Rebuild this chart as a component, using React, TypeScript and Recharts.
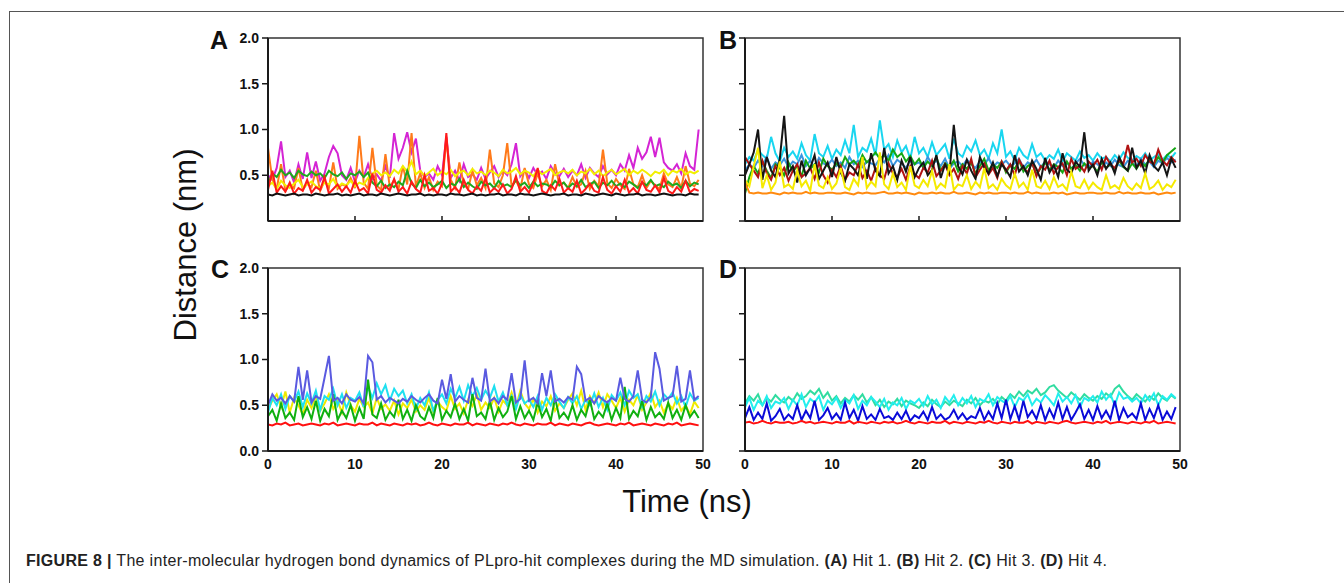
import { LineChart, Line, XAxis, YAxis, ReferenceArea } from "recharts";

// H-bond distances (nm), one value every SAMPLE_NS over the 50 ns run
const SAMPLE_NS = 0.5;
const TIME_TICKS = [0, 10, 20, 30, 40, 50];
const DIST_TICKS = [0, 0.5, 1, 1.5, 2];

// ---- Hit 1 (panel A)
const A_MAGENTA = [
  0.50, 0.45, 0.58, 0.87, 0.48, 0.55, 0.42, 0.62, 0.46, 0.75,
  0.47, 0.65, 0.44, 0.52, 0.70, 0.82, 0.74, 0.50, 0.45, 0.58,
  0.43, 0.55, 0.48, 0.62, 0.46, 0.51, 0.44, 0.60, 0.47, 0.96,
  0.68, 0.80, 0.97, 0.75, 0.90, 0.55, 0.48, 0.52, 0.45, 0.60,
  0.50, 0.92, 0.47, 0.55, 0.44, 0.62, 0.48, 0.51, 0.45, 0.58,
  0.46, 0.53, 0.60, 0.48, 0.55, 0.50, 0.62, 0.85, 0.49, 0.56,
  0.47, 0.58, 0.50, 0.54, 0.46, 0.60, 0.52, 0.49, 0.57, 0.48,
  0.55, 0.50, 0.62, 0.47, 0.58, 0.52, 0.48, 0.60, 0.51, 0.56,
  0.50, 0.62, 0.55, 0.72, 0.58, 0.80, 0.68, 0.75, 0.92, 0.70,
  0.91, 0.64, 0.58, 0.55, 0.62, 0.52, 0.74, 0.60, 0.56, 1.00,
];
const A_ORANGE = [
  0.80, 0.45, 0.35, 0.62, 0.33, 0.40, 0.36, 0.58, 0.34, 0.41,
  0.37, 0.55, 0.33, 0.44, 0.36, 0.64, 0.35, 0.40, 0.38, 0.47,
  0.36, 0.93, 0.42, 0.35, 0.80, 0.39, 0.34, 0.73, 0.37, 0.45,
  0.35, 0.60, 0.40, 0.96, 0.38, 0.52, 0.36, 0.48, 0.34, 0.43,
  0.38, 0.90, 0.45, 0.36, 0.64, 0.40, 0.35, 0.55, 0.39, 0.47,
  0.36, 0.78, 0.41, 0.37, 0.50, 0.85, 0.38, 0.44, 0.35, 0.58,
  0.40, 0.36, 0.52, 0.38, 0.45, 0.34, 0.62, 0.39, 0.42, 0.36,
  0.48, 0.37, 0.40, 0.55, 0.35, 0.44, 0.38, 0.78, 0.41, 0.36,
  0.46, 0.39, 0.35, 0.57, 0.40, 0.37, 0.50, 0.36, 0.44, 0.39,
  0.35, 0.52, 0.40, 0.37, 0.48, 0.36, 0.60, 0.41, 0.38, 0.45,
];
const A_YELLOW = [
  0.38, 0.42, 0.35, 0.44, 0.39, 0.36, 0.41, 0.45, 0.37, 0.40,
  0.43, 0.38, 0.36, 0.42, 0.40, 0.46, 0.37, 0.41, 0.39, 0.44,
  0.38, 0.42, 0.40, 0.47, 0.52, 0.55, 0.50, 0.53, 0.49, 0.56,
  0.52, 0.60, 0.54, 0.65, 0.51, 0.55, 0.49, 0.53, 0.57, 0.50,
  0.54, 0.51, 0.56, 0.49, 0.53, 0.55, 0.50, 0.57, 0.52, 0.54,
  0.50, 0.55, 0.53, 0.49, 0.56, 0.52, 0.54, 0.58, 0.51, 0.55,
  0.53, 0.49, 0.56, 0.51, 0.54, 0.57, 0.50, 0.53, 0.55, 0.52,
  0.56, 0.50, 0.54, 0.52, 0.57, 0.51, 0.55, 0.49, 0.53, 0.56,
  0.51, 0.54, 0.57, 0.50, 0.55, 0.52, 0.56, 0.53, 0.49, 0.54,
  0.52, 0.56, 0.50, 0.55, 0.53, 0.57, 0.51, 0.54, 0.52, 0.55,
];
const A_GREEN = [
  0.40, 0.52, 0.48, 0.56, 0.50, 0.53, 0.47, 0.55, 0.51, 0.49,
  0.54, 0.50, 0.52, 0.47, 0.55, 0.51, 0.49, 0.53, 0.46, 0.52,
  0.50, 0.54, 0.48, 0.53, 0.42, 0.38, 0.44, 0.36, 0.40, 0.37,
  0.43, 0.39, 0.55, 0.41, 0.36, 0.45, 0.38, 0.42, 0.37, 0.40,
  0.44, 0.36, 0.41, 0.39, 0.46, 0.37, 0.42, 0.38, 0.35, 0.43,
  0.39, 0.41, 0.36, 0.44, 0.38, 0.40, 0.37, 0.45, 0.39, 0.42,
  0.36, 0.43, 0.38, 0.41, 0.40, 0.37, 0.44, 0.39, 0.42, 0.36,
  0.41, 0.38, 0.45, 0.37, 0.40, 0.43, 0.36, 0.42, 0.39, 0.44,
  0.38, 0.41, 0.37, 0.43, 0.40, 0.36, 0.42, 0.39, 0.45, 0.38,
  0.40, 0.37, 0.43, 0.39, 0.41, 0.36, 0.44, 0.38, 0.42, 0.40,
];
const A_RED = [
  0.34, 0.55, 0.31, 0.38, 0.32, 0.42, 0.30, 0.36, 0.33, 0.45,
  0.31, 0.37, 0.34, 0.48, 0.30, 0.35, 0.40, 0.32, 0.38, 0.31,
  0.44, 0.33, 0.36, 0.30, 0.52, 0.34, 0.31, 0.39, 0.33, 0.46,
  0.32, 0.37, 0.30, 0.43, 0.35, 0.31, 0.50, 0.33, 0.36, 0.30,
  0.41, 0.96, 0.32, 0.37, 0.31, 0.45, 0.34, 0.30, 0.38, 0.33,
  0.47, 0.31, 0.36, 0.32, 0.40, 0.30, 0.35, 0.49, 0.32, 0.37,
  0.31, 0.42, 0.58, 0.33, 0.30, 0.39, 0.34, 0.46, 0.31, 0.36,
  0.32, 0.44, 0.30, 0.35, 0.41, 0.33, 0.31, 0.48, 0.34, 0.30,
  0.38, 0.32, 0.45, 0.31, 0.36, 0.30, 0.43, 0.34, 0.32, 0.39,
  0.31, 0.47, 0.33, 0.30, 0.37, 0.32, 0.44, 0.31, 0.35, 0.33,
];
const A_BLACK = [
  0.29, 0.28, 0.30, 0.29, 0.28, 0.29, 0.30, 0.28, 0.29, 0.29,
  0.28, 0.30, 0.29, 0.28, 0.29, 0.29, 0.30, 0.28, 0.29, 0.28,
  0.29, 0.30, 0.28, 0.29, 0.29, 0.28, 0.30, 0.29, 0.28, 0.29,
  0.30, 0.29, 0.28, 0.29, 0.29, 0.30, 0.28, 0.29, 0.28, 0.29,
  0.29, 0.28, 0.30, 0.29, 0.29, 0.28, 0.29, 0.30, 0.28, 0.29,
  0.28, 0.29, 0.29, 0.30, 0.28, 0.29, 0.29, 0.28, 0.30, 0.29,
  0.29, 0.28, 0.29, 0.30, 0.29, 0.28, 0.29, 0.29, 0.30, 0.28,
  0.29, 0.29, 0.28, 0.30, 0.29, 0.28, 0.29, 0.30, 0.29, 0.28,
  0.30, 0.29, 0.28, 0.29, 0.29, 0.30, 0.28, 0.29, 0.29, 0.28,
  0.29, 0.30, 0.29, 0.28, 0.29, 0.29, 0.28, 0.30, 0.29, 0.29,
];

// ---- Hit 2 (panel B)
const B_CYAN = [
  0.62, 0.70, 0.66, 0.78, 0.72, 0.68, 0.92, 0.74, 0.65, 0.80,
  0.70, 0.76, 0.68, 0.85, 0.72, 0.66, 0.95, 0.74, 0.70, 0.82,
  0.68, 0.78, 0.72, 0.88, 0.74, 1.05, 0.70, 0.80, 0.76, 0.90,
  0.72, 1.10, 0.78, 0.84, 0.70, 0.88, 0.75, 0.82, 0.68, 0.92,
  0.74, 0.80, 0.70, 0.86, 0.72, 0.78, 0.84, 0.68, 0.90, 0.74,
  0.70, 0.82, 0.76, 0.88, 0.72, 0.78, 0.68, 0.85, 0.74, 1.00,
  0.70, 0.76, 0.66, 0.80, 0.72, 0.68, 0.84, 0.70, 0.74, 0.66,
  0.72, 0.68, 0.78, 0.65, 0.74, 0.70, 0.66, 0.76, 0.69, 0.72,
  0.66, 0.74, 0.68, 0.70, 0.65, 0.72, 0.67, 0.75, 0.69, 0.66,
  0.71, 0.68, 0.74, 0.66, 0.70, 0.73, 0.67, 0.72, 0.69, 0.75,
];
const B_BLUE = [
  0.55, 0.62, 0.58, 0.66, 0.60, 0.70, 0.57, 0.64, 0.61, 0.68,
  0.59, 0.65, 0.62, 0.72, 0.60, 0.66, 0.58, 0.69, 0.63, 0.61,
  0.67, 0.60, 0.64, 0.58, 0.70, 0.62, 0.66, 0.59, 0.65, 0.63,
  0.61, 0.68, 0.64, 0.72, 0.60, 0.67, 0.63, 0.58, 0.66, 0.62,
  0.64, 0.59, 0.70, 0.62, 0.66, 0.60, 0.68, 0.57, 0.63, 0.65,
  0.60, 0.67, 0.62, 0.58, 0.65, 0.61, 0.69, 0.59, 0.64, 0.62,
  0.66, 0.60, 0.63, 0.68, 0.58, 0.64, 0.61, 0.67, 0.59, 0.65,
  0.62, 0.58, 0.66, 0.60, 0.64, 0.57, 0.63, 0.68, 0.61, 0.59,
  0.65, 0.62, 0.58, 0.64, 0.60, 0.67, 0.61, 0.59, 0.66, 0.63,
  0.60, 0.68, 0.62, 0.65, 0.59, 0.66, 0.63, 0.69, 0.64, 0.67,
];
const B_GREEN = [
  0.30, 0.48, 0.60, 0.52, 0.65, 0.55, 0.47, 0.62, 0.58, 0.50,
  0.64, 0.54, 0.60, 0.49, 0.66, 0.57, 0.62, 0.53, 0.68, 0.60,
  0.56, 0.63, 0.58, 0.70, 0.62, 0.66, 0.60, 0.72, 0.64, 0.69,
  0.75, 0.68, 0.72, 0.66, 0.78, 0.70, 0.74, 0.65, 0.71, 0.62,
  0.68, 0.58, 0.65, 0.60, 0.70, 0.55, 0.63, 0.59, 0.66, 0.54,
  0.62, 0.57, 0.64, 0.52, 0.60, 0.68, 0.55, 0.62, 0.58, 0.65,
  0.53, 0.61, 0.57, 0.66, 0.54, 0.60, 0.63, 0.51, 0.58, 0.64,
  0.56, 0.62, 0.59, 0.53, 0.65, 0.57, 0.61, 0.55, 0.63, 0.58,
  0.60, 0.54, 0.64, 0.58, 0.62, 0.56, 0.66, 0.59, 0.55, 0.63,
  0.57, 0.65, 0.60, 0.68, 0.62, 0.70, 0.64, 0.72, 0.76, 0.80,
];
const B_DARKRED = [
  0.70, 0.62, 0.55, 0.48, 0.66, 0.52, 0.45, 0.60, 0.50, 0.58,
  0.44, 0.55, 0.62, 0.48, 0.52, 0.58, 0.46, 0.64, 0.50, 0.42,
  0.56, 0.48, 0.60, 0.45, 0.53, 0.50, 0.62, 0.47, 0.55, 0.44,
  0.58, 0.50, 0.46, 0.63, 0.52, 0.48, 0.57, 0.45, 0.60, 0.51,
  0.47, 0.58, 0.53, 0.66, 0.49, 0.55, 0.62, 0.50, 0.57, 0.46,
  0.60, 0.52, 0.68, 0.48, 0.56, 0.63, 0.51, 0.58, 0.47, 0.65,
  0.55, 0.62, 0.50, 0.67, 0.58, 0.53, 0.64, 0.49, 0.60, 0.56,
  0.66, 0.52, 0.59, 0.63, 0.50, 0.68, 0.57, 0.61, 0.54, 0.65,
  0.60, 0.67, 0.56, 0.70, 0.62, 0.58, 0.66, 0.63, 0.83, 0.64,
  0.68, 0.60, 0.72, 0.65, 0.62, 0.78, 0.66, 0.61, 0.70, 0.64,
];
const B_BLACK = [
  0.50, 0.62, 0.75, 1.00, 0.45, 0.70, 0.55, 0.48, 0.68, 1.15,
  0.52, 0.60, 0.42, 0.66, 0.50, 0.58, 0.72, 0.46, 0.55, 0.64,
  0.48, 0.70, 0.53, 0.44, 0.62, 0.57, 0.50, 0.68, 0.46, 0.74,
  0.55, 0.49, 0.80, 0.52, 0.60, 0.45, 0.66, 0.54, 0.70, 0.48,
  0.58, 0.64, 0.50, 0.56, 0.72, 0.47, 0.62, 0.53, 1.05, 0.60,
  0.51, 0.67, 0.55, 0.46, 0.70, 0.58, 0.52, 0.64, 0.49, 0.62,
  0.56, 0.48, 0.72, 0.54, 0.60, 0.50, 0.66, 0.57, 0.45, 0.69,
  0.53, 0.61, 0.48, 0.74, 0.56, 0.52, 0.65, 0.59, 0.97, 0.55,
  0.62, 0.50, 0.68, 0.57, 0.64, 0.52, 0.70, 0.60, 0.55, 0.80,
  0.58, 0.66, 0.52, 0.72, 0.60, 0.55, 0.64, 0.50, 0.68, 0.58,
];
const B_YELLOW = [
  0.45, 0.38, 0.60, 0.80, 0.36, 0.50, 0.34, 0.42, 0.65, 0.37,
  0.40, 0.35, 0.55, 0.38, 0.44, 0.33, 0.62, 0.39, 0.36, 0.48,
  0.35, 0.41, 0.58, 0.37, 0.34, 0.46, 0.39, 0.70, 0.36, 0.43,
  0.38, 0.75, 0.40, 0.35, 0.52, 0.37, 0.42, 0.34, 0.60, 0.39,
  0.36, 0.45, 0.38, 0.55, 0.35, 0.41, 0.37, 0.62, 0.34, 0.40,
  0.38, 0.50, 0.35, 0.43, 0.37, 0.58, 0.36, 0.40, 0.34, 0.46,
  0.39, 0.35, 0.52, 0.37, 0.42, 0.34, 0.56, 0.38, 0.36, 0.44,
  0.35, 0.48, 0.37, 0.40, 0.34, 0.54, 0.38, 0.36, 0.45, 0.35,
  0.42, 0.37, 0.34, 0.50, 0.36, 0.39, 0.35, 0.47, 0.38, 0.34,
  0.41, 0.36, 0.52, 0.35, 0.38, 0.44, 0.34, 0.40, 0.37, 0.45,
];
const B_ORANGE = [
  0.42, 0.31, 0.30, 0.31, 0.30, 0.30, 0.31, 0.30, 0.29, 0.31,
  0.30, 0.31, 0.30, 0.30, 0.32, 0.30, 0.31, 0.30, 0.30, 0.31,
  0.31, 0.30, 0.30, 0.31, 0.30, 0.29, 0.31, 0.30, 0.31, 0.30,
  0.30, 0.31, 0.32, 0.30, 0.30, 0.31, 0.30, 0.31, 0.30, 0.29,
  0.31, 0.30, 0.30, 0.31, 0.30, 0.31, 0.30, 0.30, 0.32, 0.30,
  0.30, 0.31, 0.30, 0.29, 0.31, 0.30, 0.31, 0.30, 0.30, 0.31,
  0.31, 0.30, 0.31, 0.30, 0.30, 0.32, 0.30, 0.31, 0.30, 0.30,
  0.30, 0.31, 0.30, 0.31, 0.29, 0.30, 0.31, 0.30, 0.30, 0.31,
  0.31, 0.30, 0.30, 0.31, 0.30, 0.30, 0.32, 0.30, 0.31, 0.30,
  0.30, 0.31, 0.30, 0.30, 0.31, 0.29, 0.30, 0.31, 0.30, 0.31,
];

// ---- Hit 3 (panel C)
const C_YELLOW = [
  0.45, 0.55, 0.62, 0.48, 0.65, 0.42, 0.58, 0.50, 0.40, 0.56,
  0.47, 0.60, 0.44, 0.52, 0.62, 0.46, 0.55, 0.42, 0.64, 0.50,
  0.43, 0.57, 0.48, 0.53, 0.41, 0.58, 0.46, 0.51, 0.44, 0.55,
  0.40, 0.52, 0.47, 0.56, 0.43, 0.50, 0.45, 0.58, 0.42, 0.54,
  0.48, 0.44, 0.60, 0.46, 0.52, 0.41, 0.56, 0.49, 0.62, 0.45,
  0.53, 0.47, 0.58, 0.43, 0.55, 0.50, 0.64, 0.48, 0.66, 0.52,
  0.46, 0.57, 0.42, 0.54, 0.49, 0.60, 0.44, 0.52, 0.47, 0.56,
  0.63, 0.50, 0.66, 0.45, 0.60, 0.52, 0.64, 0.48, 0.62, 0.55,
  0.47, 0.58, 0.43, 0.56, 0.50, 0.61, 0.45, 0.53, 0.64, 0.48,
  0.55, 0.42, 0.52, 0.46, 0.58, 0.44, 0.50, 0.40, 0.54, 0.47,
];
const C_CYAN = [
  0.42, 0.58, 0.50, 0.62, 0.46, 0.60, 0.54, 0.65, 0.48, 0.63,
  0.52, 0.66, 0.45, 0.60, 0.56, 0.68, 0.50, 0.62, 0.47, 0.58,
  0.55, 0.64, 0.48, 0.70, 0.58, 0.74, 0.62, 0.72, 0.55, 0.68,
  0.60, 0.66, 0.52, 0.62, 0.46, 0.58, 0.50, 0.64, 0.44, 0.56,
  0.62, 0.52, 0.68, 0.58, 0.70, 0.55, 0.72, 0.60, 0.69, 0.56,
  0.66, 0.58, 0.71, 0.54, 0.64, 0.50, 0.60, 0.46, 0.62, 0.52,
  0.56, 0.48, 0.60, 0.45, 0.58, 0.50, 0.62, 0.54, 0.47, 0.59,
  0.52, 0.60, 0.46, 0.56, 0.50, 0.63, 0.48, 0.58, 0.45, 0.61,
  0.55, 0.64, 0.50, 0.66, 0.58, 0.62, 0.48, 0.60, 0.54, 0.65,
  0.50, 0.62, 0.57, 0.64, 0.52, 0.60, 0.48, 0.63, 0.55, 0.58,
];
const C_GREEN = [
  0.38, 0.45, 0.33, 0.52, 0.36, 0.42, 0.34, 0.60, 0.37, 0.48,
  0.35, 0.55, 0.33, 0.46, 0.38, 0.62, 0.34, 0.44, 0.36, 0.50,
  0.33, 0.47, 0.35, 0.78, 0.40, 0.36, 0.52, 0.34, 0.43, 0.37,
  0.56, 0.35, 0.45, 0.33, 0.50, 0.38, 0.34, 0.48, 0.36, 0.58,
  0.34, 0.44, 0.37, 0.52, 0.35, 0.46, 0.33, 0.62, 0.38, 0.42,
  0.35, 0.55, 0.34, 0.47, 0.37, 0.43, 0.60, 0.35, 0.49, 0.36,
  0.44, 0.34, 0.53, 0.37, 0.46, 0.33, 0.58, 0.36, 0.42, 0.35,
  0.50, 0.34, 0.45, 0.38, 0.56, 0.35, 0.43, 0.37, 0.52, 0.34,
  0.47, 0.36, 0.70, 0.35, 0.44, 0.38, 0.55, 0.34, 0.48, 0.37,
  0.42, 0.35, 0.53, 0.36, 0.45, 0.34, 0.50, 0.37, 0.44, 0.36,
];
const C_SLATE = [
  0.50, 0.62, 0.55, 0.58, 0.52, 0.60, 0.54, 0.92, 0.56, 0.88,
  0.53, 0.60, 0.57, 0.80, 1.04, 0.55, 0.58, 0.52, 0.62, 0.56,
  0.54, 0.59, 0.52, 1.04, 0.97, 0.56, 0.60, 0.53, 0.58, 0.55,
  0.52, 0.57, 0.54, 0.60, 0.56, 0.53, 0.58, 0.62, 0.55, 0.52,
  0.78, 0.57, 0.84, 0.54, 0.60, 0.56, 0.53, 0.80, 0.58, 0.55,
  0.90, 0.54, 0.58, 0.52, 0.60, 0.56, 0.85, 0.53, 0.57, 0.99,
  0.55, 0.58, 0.52, 0.85, 0.60, 0.88, 0.54, 0.57, 0.53, 0.59,
  0.56, 0.92, 0.84, 0.55, 0.58, 0.52, 0.60, 0.56, 0.53, 0.58,
  0.55, 0.80, 0.57, 0.54, 0.60, 0.88, 0.56, 0.53, 0.59, 1.08,
  0.90, 0.55, 0.58, 0.60, 0.93, 0.54, 0.57, 0.88, 0.56, 0.60,
];
const C_RED = [
  0.29, 0.28, 0.30, 0.29, 0.31, 0.28, 0.29, 0.30, 0.28, 0.29,
  0.30, 0.29, 0.28, 0.30, 0.29, 0.31, 0.28, 0.29, 0.30, 0.29,
  0.28, 0.30, 0.29, 0.29, 0.31, 0.28, 0.30, 0.29, 0.28, 0.30,
  0.29, 0.28, 0.30, 0.29, 0.30, 0.28, 0.29, 0.31, 0.29, 0.28,
  0.30, 0.29, 0.28, 0.30, 0.29, 0.29, 0.31, 0.28, 0.30, 0.29,
  0.28, 0.30, 0.29, 0.28, 0.30, 0.29, 0.31, 0.29, 0.28, 0.30,
  0.29, 0.28, 0.30, 0.29, 0.29, 0.31, 0.28, 0.30, 0.29, 0.28,
  0.30, 0.29, 0.28, 0.30, 0.31, 0.29, 0.28, 0.29, 0.30, 0.29,
  0.28, 0.30, 0.29, 0.31, 0.28, 0.29, 0.30, 0.29, 0.28, 0.30,
  0.29, 0.28, 0.30, 0.29, 0.31, 0.28, 0.29, 0.30, 0.29, 0.28,
];

// ---- Hit 4 (panel D)
const D_AQUA = [
  0.52, 0.60, 0.55, 0.62, 0.50, 0.58, 0.54, 0.61, 0.56, 0.53,
  0.59, 0.55, 0.63, 0.57, 0.60, 0.66, 0.62, 0.68, 0.58, 0.64,
  0.55, 0.60, 0.52, 0.58, 0.54, 0.61, 0.56, 0.62, 0.53, 0.59,
  0.50, 0.56, 0.48, 0.54, 0.51, 0.57, 0.49, 0.55, 0.52, 0.50,
  0.47, 0.53, 0.49, 0.56, 0.51, 0.48, 0.54, 0.50, 0.55, 0.52,
  0.49, 0.56, 0.52, 0.58, 0.50, 0.55, 0.53, 0.57, 0.51, 0.59,
  0.55, 0.62, 0.58, 0.65, 0.60, 0.66, 0.63, 0.68, 0.61, 0.64,
  0.70, 0.72, 0.66, 0.62, 0.58, 0.64, 0.60, 0.56, 0.62, 0.58,
  0.55, 0.60, 0.57, 0.63, 0.59, 0.68, 0.72, 0.65, 0.60, 0.56,
  0.62, 0.58, 0.54, 0.60, 0.56, 0.63, 0.58, 0.55, 0.61, 0.57,
];
const D_CYAN = [
  0.48, 0.58, 0.45, 0.55, 0.50, 0.60, 0.47, 0.54, 0.52, 0.58,
  0.46, 0.56, 0.50, 0.62, 0.48, 0.57, 0.53, 0.60, 0.45, 0.55,
  0.51, 0.58, 0.47, 0.56, 0.52, 0.61, 0.46, 0.55, 0.50, 0.59,
  0.54, 0.48, 0.57, 0.45, 0.53, 0.50, 0.58, 0.46, 0.55, 0.52,
  0.57, 0.49, 0.60, 0.51, 0.56, 0.47, 0.59, 0.53, 0.61, 0.50,
  0.58, 0.52, 0.60, 0.48, 0.57, 0.54, 0.62, 0.50, 0.59, 0.55,
  0.52, 0.60, 0.48, 0.58, 0.55, 0.62, 0.50, 0.57, 0.53, 0.61,
  0.56, 0.50, 0.63, 0.54, 0.59, 0.52, 0.61, 0.48, 0.58, 0.55,
  0.60, 0.53, 0.65, 0.56, 0.62, 0.50, 0.64, 0.57, 0.59, 0.54,
  0.58, 0.52, 0.61, 0.55, 0.63, 0.50, 0.60, 0.56, 0.62, 0.58,
];
const D_BLUE = [
  0.36, 0.48, 0.34, 0.42, 0.35, 0.52, 0.33, 0.38, 0.46, 0.34,
  0.40, 0.35, 0.50, 0.34, 0.44, 0.36, 0.55, 0.34, 0.39, 0.47,
  0.35, 0.41, 0.34, 0.53, 0.36, 0.45, 0.33, 0.49, 0.35, 0.40,
  0.34, 0.46, 0.36, 0.38, 0.34, 0.42, 0.35, 0.44, 0.33, 0.39,
  0.36, 0.43, 0.34, 0.48, 0.35, 0.40, 0.34, 0.37, 0.45, 0.35,
  0.41, 0.34, 0.38, 0.36, 0.47, 0.34, 0.43, 0.35, 0.52, 0.36,
  0.56, 0.35, 0.49, 0.34, 0.55, 0.37, 0.44, 0.35, 0.50, 0.34,
  0.46, 0.36, 0.53, 0.35, 0.48, 0.34, 0.42, 0.51, 0.35, 0.45,
  0.34, 0.49, 0.36, 0.44, 0.35, 0.55, 0.34, 0.47, 0.37, 0.41,
  0.35, 0.52, 0.34, 0.46, 0.36, 0.50, 0.34, 0.43, 0.35, 0.48,
];
const D_RED = [
  0.31, 0.32, 0.30, 0.31, 0.33, 0.31, 0.30, 0.32, 0.31, 0.31,
  0.32, 0.30, 0.31, 0.33, 0.31, 0.32, 0.30, 0.31, 0.32, 0.31,
  0.30, 0.32, 0.31, 0.31, 0.33, 0.30, 0.32, 0.31, 0.30, 0.32,
  0.31, 0.30, 0.32, 0.31, 0.32, 0.30, 0.31, 0.33, 0.31, 0.30,
  0.32, 0.31, 0.30, 0.32, 0.31, 0.31, 0.33, 0.30, 0.32, 0.31,
  0.30, 0.32, 0.31, 0.30, 0.32, 0.31, 0.33, 0.31, 0.30, 0.32,
  0.31, 0.30, 0.32, 0.31, 0.31, 0.33, 0.30, 0.32, 0.31, 0.30,
  0.32, 0.31, 0.30, 0.32, 0.33, 0.31, 0.30, 0.31, 0.32, 0.31,
  0.30, 0.32, 0.31, 0.33, 0.30, 0.31, 0.32, 0.31, 0.30, 0.32,
  0.31, 0.30, 0.32, 0.31, 0.33, 0.30, 0.31, 0.32, 0.31, 0.30,
];

type Series = { key: string; color: string; values: number[] };

// draw order = array order (last one ends up on top)
const PANEL_A: Series[] = [
  { key: "magenta", color: "#d424d4", values: A_MAGENTA },
  { key: "orange", color: "#ff7a1a", values: A_ORANGE },
  { key: "yellow", color: "#f2ef00", values: A_YELLOW },
  { key: "green", color: "#1ea81e", values: A_GREEN },
  { key: "red", color: "#ff1a1a", values: A_RED },
  { key: "black", color: "#111111", values: A_BLACK },
];
const PANEL_B: Series[] = [
  { key: "cyan", color: "#19d6f0", values: B_CYAN },
  { key: "blue", color: "#3a96e0", values: B_BLUE },
  { key: "green", color: "#14a614", values: B_GREEN },
  { key: "darkred", color: "#b01212", values: B_DARKRED },
  { key: "black", color: "#151515", values: B_BLACK },
  { key: "yellow", color: "#f5ea00", values: B_YELLOW },
  { key: "orange", color: "#ff8a10", values: B_ORANGE },
];
const PANEL_C: Series[] = [
  { key: "yellow", color: "#f0ea00", values: C_YELLOW },
  { key: "cyan", color: "#1ee0f0", values: C_CYAN },
  { key: "green", color: "#10b010", values: C_GREEN },
  { key: "slate", color: "#5a5ae0", values: C_SLATE },
  { key: "red", color: "#ff1010", values: C_RED },
];
const PANEL_D: Series[] = [
  { key: "aqua", color: "#30dca0", values: D_AQUA },
  { key: "cyan", color: "#22eeee", values: D_CYAN },
  { key: "blue", color: "#0a0ad8", values: D_BLUE },
  { key: "red", color: "#ff1010", values: D_RED },
];

function toRows(series: Series[]) {
  return series[0].values.map((_, i) => {
    const row: Record<string, number> = { t: i * SAMPLE_NS };
    series.forEach((s) => (row[s.key] = s.values[i]));
    return row;
  });
}

const FONT = "'Liberation Sans', Arial, Helvetica, sans-serif";
const AXIS = "#1a1a1a";
const PLOT_H = 183;
const TICK_STYLE = { fill: "#111", fontSize: 14, fontWeight: 700, fontFamily: FONT };

// upper panels carry no time labels, only short ticks pointing up into the plot
// eslint-disable-next-line @typescript-eslint/no-explicit-any
function InwardTick(props: any) {
  const { x, y, payload } = props;
  if (payload.value === 0 || payload.value === 50) return <g />;
  return <line x1={x} x2={x} y1={y} y2={y - 5} stroke={AXIS} strokeWidth={1.5} />;
}

interface PanelProps {
  series: Series[];
  left: number;
  top: number;
  showY: boolean;
  showX: boolean;
}

function Panel({ series, left, top, showY, showX }: PanelProps) {
  const xH = showX ? 30 : 6;
  return (
    <div style={{ position: "absolute", left, top }}>
      <LineChart
        width={530}
        height={10 + PLOT_H + xH}
        data={toRows(series)}
        margin={{ top: 10, right: 17, bottom: 0, left: 0 }}
      >
        <XAxis
          dataKey="t"
          type="number"
          domain={[0, 50]}
          ticks={TIME_TICKS}
          interval={0}
          height={xH}
          tickLine={false}
          tickSize={showX ? 6 : 0}
          tickMargin={showX ? 2 : 0}
          tick={showX ? TICK_STYLE : <InwardTick />}
          axisLine={{ stroke: AXIS, strokeWidth: 2 }}
        />
        <YAxis
          type="number"
          domain={[0, 2]}
          ticks={DIST_TICKS}
          width={78}
          tickSize={6}
          tickMargin={3}
          tickFormatter={(v) => (showY ? Number(v).toFixed(1) : "")}
          tick={TICK_STYLE}
          axisLine={{ stroke: AXIS, strokeWidth: 2 }}
          tickLine={{ stroke: AXIS, strokeWidth: 1.5 }}
        />
        {series.map((s) => (
          <Line
            key={s.key}
            dataKey={s.key}
            type="linear"
            stroke={s.color}
            strokeWidth={2}
            dot={false}
            activeDot={false}
            isAnimationActive={false}
          />
        ))}
        <ReferenceArea
          x1={0}
          x2={50}
          y1={0}
          y2={2}
          fill="none"
          stroke="#333"
          strokeWidth={1.5}
        />
      </LineChart>
    </div>
  );
}

export default function App() {
  return (
    <div
      style={{
        position: "absolute",
        left: 0,
        top: 0,
        width: 1344,
        height: 583,
        background: "#fff",
        overflow: "hidden",
        fontFamily: FONT,
      }}
    >
      <div
        style={{
          position: "absolute",
          left: 9,
          top: 11,
          width: 1400,
          height: 600,
          borderTop: "1px solid #555",
          borderLeft: "1px solid #555",
        }}
      />
      <Panel series={PANEL_A} left={190} top={28} showY showX={false} />
      <Panel series={PANEL_B} left={667} top={28} showY={false} showX={false} />
      <Panel series={PANEL_C} left={190} top={258} showY showX />
      <Panel series={PANEL_D} left={667} top={258} showY={false} showX />
      <svg
        width={1344}
        height={583}
        style={{ position: "absolute", left: 0, top: 0, pointerEvents: "none" }}
        fontFamily={FONT}
      >
        <g fontSize={25} fontWeight={700} fill="#111">
          <text x={210} y={49}>A</text>
          <text x={719} y={49}>B</text>
          <text x={211} y={278}>C</text>
          <text x={719} y={278}>D</text>
        </g>
        <text
          transform="translate(196,245) rotate(-90)"
          textAnchor="middle"
          fontSize={31}
          fill="#111"
        >
          Distance (nm)
        </text>
        <text x={687} y={512} textAnchor="middle" fontSize={31} fill="#111">
          Time (ns)
        </text>
        <text x={26} y={566} fontSize={16} fill="#222" textLength={1081} lengthAdjust="spacing">
          <tspan fontWeight={700}>FIGURE 8 |</tspan>
          <tspan> The inter-molecular hydrogen bond dynamics of PLpro-hit complexes during the MD simulation. </tspan>
          <tspan fontWeight={700}>(A)</tspan>
          <tspan> Hit 1. </tspan>
          <tspan fontWeight={700}>(B)</tspan>
          <tspan> Hit 2. </tspan>
          <tspan fontWeight={700}>(C)</tspan>
          <tspan> Hit 3. </tspan>
          <tspan fontWeight={700}>(D)</tspan>
          <tspan> Hit 4.</tspan>
        </text>
      </svg>
    </div>
  );
}
